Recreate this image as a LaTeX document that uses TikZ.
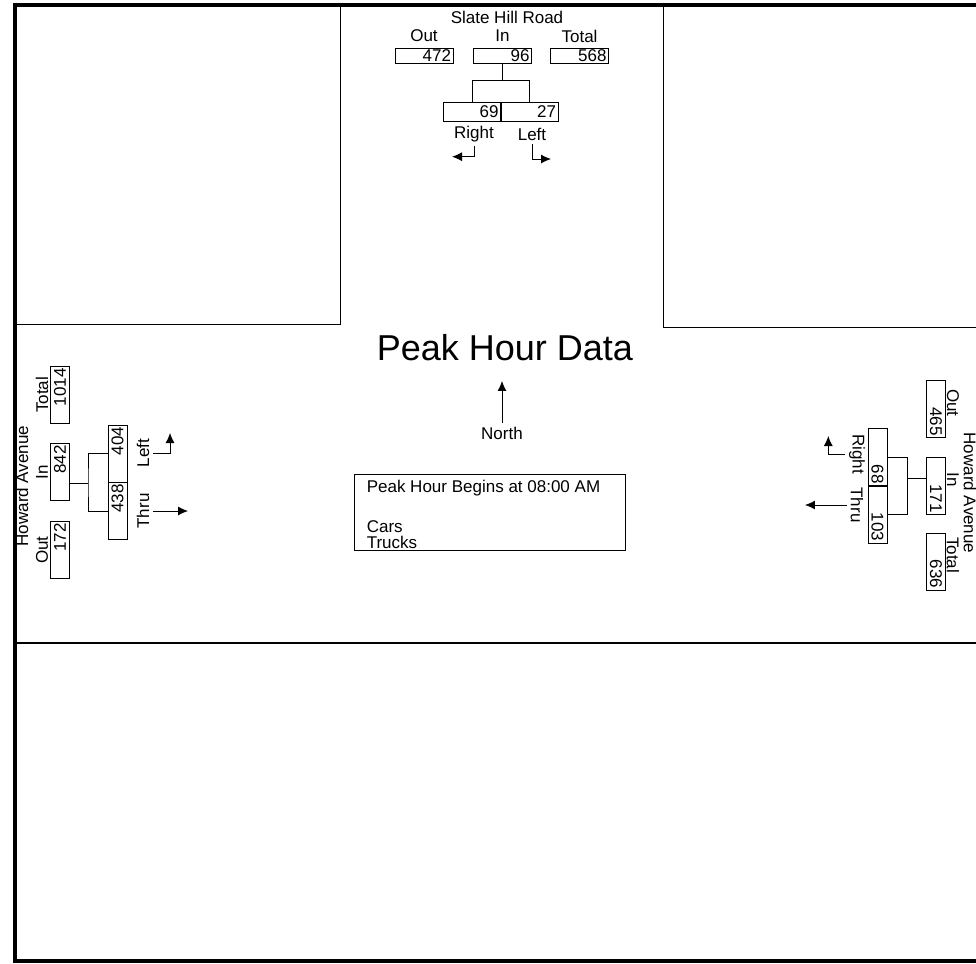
\documentclass[tikz,border=0pt]{standalone}
\usepackage{fontspec}
\setmainfont{Liberation Sans}
\usetikzlibrary{arrows.meta}

\begin{document}
\begin{tikzpicture}[x=1pt, y=-1pt, line width=0.9pt,
    font=\fontsize{17}{20}\selectfont,
    numbox/.style={draw, inner xsep=2pt, inner ysep=0pt, text width=54pt,
      align=right, minimum height=15pt},
    sidebox/.style={numbox, text width=53pt, minimum height=19pt},
    arr/.style={-{Latex[length=10pt,width=9pt]}}]
  \useasboundingbox (0,0) rectangle (976,963);
  % frame and quadrants
  \draw[line width=3.5pt] (976,5) -- (15,5) -- (15,961) -- (976,961);
  \draw[line width=2pt] (15,643) -- (976,643);
  \draw (340,5) -- (340,324) -- (15,324);
  \draw (663,5) -- (663,327) -- (976,327);

  % Slate Hill Road
  \node (slate) at (507,17) {Slate Hill Road};
  \node (sOutLbl) at (424,36) {Out};
  \node (sInLbl) at (502.5,36) {In};
  \node (sTotLbl) at (579.5,36) {Total};
  \node[numbox] (sOut) at (424,55.5) {472};
  \node[numbox] (sIn) at (502.5,55.5) {96};
  \node[numbox] (sTot) at (579.5,55.5) {568};
  \node[sidebox] (sRgt) at (472,111.5) {69};
  \node[sidebox] (sLft) at (529.5,111.5) {27};
  \draw (sIn.south) -- ++(0,17) coordinate (sBr);
  \draw (sRgt.north) |- (sBr) -| (sLft.north);
  \node (sRgtLbl) at (474,134) {Right};
  \node (sLftLbl) at (532,134) {Left};
  \draw[arr] (sRgtLbl.south) |- ++(-22,11);
  \draw[arr] (sLftLbl.south) |- ++(19,15);

  % Howard Avenue, west leg
  \node[rotate=90] (wName) at (22,486) {Howard Avenue};
  \node[rotate=90] (wTotLbl) at (42,395) {Total};
  \node[rotate=90] (wInLbl) at (42,472) {In};
  \node[rotate=90] (wOutLbl) at (42,550) {Out};
  \node[sidebox, rotate=90] (wTot) at (60,395) {1014};
  \node[sidebox, rotate=90] (wIn) at (60,472) {842};
  \node[sidebox, rotate=90] (wOut) at (60,550) {172};
  \node[sidebox, rotate=90] (wLft) at (117.5,453.5) {404};
  \node[sidebox, rotate=90] (wThr) at (117.5,511) {438};
  \coordinate (wBr) at (88,483);
  \draw (wIn.south |- wBr) -- (wBr);
  \draw (wLft.north) -| (wBr) |- (wThr.north);
  \node[rotate=90] (wLftLbl) at (143,453) {Left};
  \node[rotate=90] (wThrLbl) at (143,511) {Thru};
  \draw[arr] (wLftLbl.south) -| ++(17,-20);
  \draw[arr] (wThrLbl.south) -- ++(35,0);

  % Howard Avenue, east leg
  \node[rotate=-90] (eName) at (970,493) {Howard Avenue};
  \node[rotate=-90] (eOutLbl) at (953,403) {Out};
  \node[rotate=-90] (eInLbl) at (953,480) {In};
  \node[rotate=-90] (eTotLbl) at (953,555) {Total};
  \node[sidebox, rotate=-90] (eOut) at (936,409) {465};
  \node[sidebox, rotate=-90] (eIn) at (936,486) {171};
  \node[sidebox, rotate=-90] (eTot) at (936,561.5) {636};
  \node[sidebox, rotate=-90] (eRgt) at (877.5,457) {68};
  \node[sidebox, rotate=-90] (eThr) at (877.5,514.5) {103};
  \coordinate (eBr) at (907,478);
  \draw (eIn.south |- eBr) -- (eBr);
  \draw (eRgt.north) -| (eBr) |- (eThr.north);
  \node[rotate=-90] (eRgtLbl) at (857,454) {Right};
  \node[rotate=-90] (eThrLbl) at (857,505) {Thru};
  \draw[arr] (eRgtLbl.south) -| ++(-17,-18);
  \draw[arr] (eThrLbl.south) -- ++(-42,0);

  % title, north arrow, info box
  \node[font=\fontsize{36}{40}\selectfont, anchor=base] (title) at (505,360) {Peak Hour Data};
  \node (north) at (502,433) {North};
  \draw[arr] (north.north) -- ++(0,-42);
  \node[draw, minimum width=271pt, minimum height=76pt, anchor=north west, inner sep=0pt] (info) at (354,474) {};
  \node[anchor=base west] (begins) at (363,492) {Peak Hour Begins at 08:00 AM};
  \node[anchor=base west] (cars) at (363,532) {Cars};
  \node[anchor=base west] (trucks) at (363,548) {Trucks};
\end{tikzpicture}
\end{document}
